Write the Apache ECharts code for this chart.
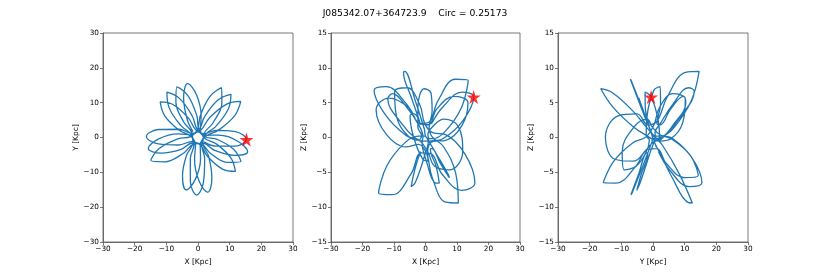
<!DOCTYPE html>
<html>
<head>
<meta charset="utf-8">
<script src="https://cdn.jsdelivr.net/npm/echarts@6/dist/echarts.min.js"></script>
<style>
html,body{margin:0;padding:0;background:#fff;}
#c{width:830px;height:277px;}
</style>
</head>
<body>
<div id="c"></div>
<script>
// Orbit samples (kpc), one row per petal
var orbitX = [
  1.87,5.58,11.64,15.29,11.79,5.74,1.95,
  -0.71,-2.95,-7.80,-11.94,-10.50,-5.89,-2.27,
  -0.80,-1.09,0.30,3.05,4.38,3.35,1.56,
  1.99,4.76,7.54,7.43,3.85,0.75,-0.14,
  -2.35,-6.43,-12.26,-14.89,-10.56,-4.59,-1.38,
  1.67,5.23,11.49,15.68,12.54,6.37,2.27,
  -0.27,-1.82,-5.86,-9.81,-9.18,-5.43,-2.19,
  -1.25,-2.42,-2.41,-0.43,1.75,2.10,1.15,
  2.22,5.58,9.57,10.41,6.38,2.12,0.39,
  -2.20,-6.25,-12.43,-15.68,-11.60,-5.35,-1.72,
  1.15,3.98,9.43,13.54,11.32,6.03,2.24,
  0.26,-0.40,-3.19,-6.64,-6.98,-4.51,-1.92,
  -1.63,-3.58,-4.89,-3.75,-0.85,0.80,0.70,
  2.42,6.37,11.60,13.49,9.06,3.61,0.96,
  -2.02,-5.99,-12.45,-16.30,-12.52,-6.07,-2.06,
  0.71,2.93,7.72,11.81,10.37,5.81,2.24,
  0.76,0.99,-0.48,-3.28,-4.55,-3.43,-1.59];
var orbitY = [
  -1.27,-2.46,-2.49,-0.53,1.67,2.06,1.13,
  2.19,5.49,9.39,10.20,6.23,2.05,0.36,
  -2.19,-6.24,-12.43,-15.71,-11.64,-5.38,-1.73,
  1.23,4.24,9.98,14.28,11.90,6.33,2.34,
  0.27,-0.39,-3.18,-6.63,-6.98,-4.52,-1.93,
  -1.67,-3.69,-5.12,-4.06,-1.09,0.69,0.65,
  2.35,6.18,11.23,13.02,8.72,3.46,0.91,
  -2.03,-6.05,-12.58,-16.50,-12.69,-6.17,-2.09,
  0.78,3.14,8.17,12.41,10.84,6.04,2.33,
  0.78,1.04,-0.41,-3.19,-4.48,-3.40,-1.58,
  -1.93,-4.57,-7.14,-6.90,-3.43,-0.54,0.21,
  2.32,6.32,12.02,14.56,10.29,4.45,1.32,
  -1.59,-5.02,-11.01,-15.04,-12.02,-6.12,-2.17,
  0.35,2.04,6.28,10.35,9.58,5.62,2.25,
  1.24,2.37,2.30,0.29,-1.86,-2.15,-1.16,
  -2.14,-5.34,-9.06,-9.73,-5.85,-1.86,-0.29,
  2.19,6.19,12.27,15.45,11.40,5.25,1.69];
var orbitZ = [
  1.93,4.41,6.52,5.80,2.36,-0.11,-0.48,
  -0.51,-0.22,2.13,5.50,6.29,4.30,1.89,
  0.09,-0.71,-3.42,-6.50,-6.54,-4.11,-1.71,
  -1.59,-3.74,-5.77,-5.50,-2.65,-0.34,0.21,
  0.20,-0.70,-4.05,-8.00,-8.21,-5.22,-2.20,
  -2.31,-5.24,-7.58,-6.50,-2.38,0.42,0.69,
  2.03,4.70,7.14,6.60,2.98,0.18,-0.37,
  0.28,1.46,4.32,7.00,6.40,3.72,1.48,
  0.02,-1.22,-5.12,-9.40,-9.28,-5.74,-2.38,
  -1.00,-1.35,0.46,4.00,5.66,4.31,2.00,
  2.23,5.29,8.36,8.20,4.20,0.77,-0.17,
  -0.01,1.26,5.20,9.50,9.36,5.78,2.39,
  1.80,3.39,3.12,0.00,-3.12,-3.39,-1.80,
  -0.57,-0.41,1.75,5.00,5.91,4.11,1.83,
  2.05,4.78,7.29,6.80,3.13,0.26,-0.35,
  -2.05,-4.13,-4.65,-2.00,1.59,2.65,1.55,
  0.39,-0.15,-2.90,-6.50,-7.06,-4.67,-2.01];
var starPos = {x: 15.3, y: -0.6, z: 5.8};
var xyTicks = [-30, 30, 10];
var zTicks = [-15, 15, 5];
var axisNames = [['X [Kpc]','Y [Kpc]'],['X [Kpc]','Z [Kpc]'],['Y [Kpc]','Z [Kpc]']];
var titleText = 'J085342.07+364723.9    Circ = 0.25173';

var FONT = 'DejaVu Sans';
function pairs(a, b){ var out=[]; for (var i=0;i<a.length;i++) out.push([a[i], b[i]]); return out; }
function fmt(v){ return String(v).replace('-', '\u2212'); }
var lefts = [103, 331, 558];
var widths = [190, 189, 190];
var grids = [], xAxes = [], yAxes = [], series = [];
var starPath = 'path://M50,0 L61.2,34.5 L97.6,34.5 L68.2,55.9 L79.4,90.5 L50,69.1 L20.6,90.5 L31.8,55.9 L2.4,34.5 L38.8,34.5 Z';
function axis(t, name, isX, idx){
  return {
    type:'value', gridIndex:idx, min:t[0], max:t[1], interval:t[2],
    name:name, nameLocation:'middle', nameGap: isX ? 12 : 22,
    nameTextStyle:{fontFamily:FONT, fontSize:7.5, color:'#000'},
    axisLine:{show:true, onZero:false, lineStyle:{color:'#555', width:0.8}},
    axisTick:{show:true, inside:false, length:3, lineStyle:{color:'#555', width:0.8}},
    axisLabel:{fontFamily:FONT, fontSize:7.3, color:'#000', margin:4, formatter:fmt},
    splitLine:{show:false}
  };
}
var data2d = [pairs(orbitX, orbitY), pairs(orbitX, orbitZ), pairs(orbitY, orbitZ)];
var stars = [[starPos.x, starPos.y],[starPos.x, starPos.z],[starPos.y, starPos.z]];
for (var k=0;k<3;k++){
  grids.push({left:lefts[k], top:33, width:widths[k], height:209, show:true, borderColor:'#555', borderWidth:0.8, backgroundColor:'#fff'});
  xAxes.push(axis(xyTicks, axisNames[k][0], true, k));
  yAxes.push(axis(k===0 ? xyTicks : zTicks, axisNames[k][1], false, k));
  series.push({type:'line', xAxisIndex:k, yAxisIndex:k, data:data2d[k], smooth:0.4, showSymbol:false,
    lineStyle:{color:'#1f77b4', width:1.3}, animation:false, silent:true});
  series.push({type:'scatter', xAxisIndex:k, yAxisIndex:k, data:[stars[k]], symbol:starPath, symbolSize:14,
    itemStyle:{color:'#ff0000'}, animation:false, z:5});
}
var chart = echarts.init(document.getElementById('c'), null, {renderer:'canvas'});
chart.setOption({
  animation:false,
  title:{text:titleText, left:'center', top:4, textStyle:{fontFamily:FONT, fontSize:9.2, fontWeight:'normal', color:'#000'}},
  grid:grids, xAxis:xAxes, yAxis:yAxes, series:series
});
</script>
</body>
</html>
